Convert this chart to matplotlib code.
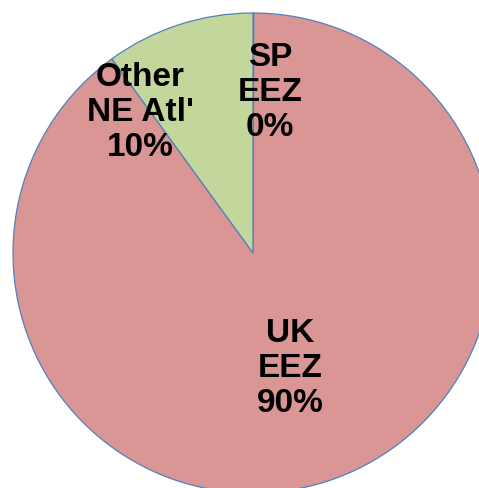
import matplotlib.pyplot as plt

# share of catch by zone
zones = ["SP\nEEZ", "UK\nEEZ", "Other\nNE Atl'"]
shares = [0.05, 89.95, 10.0]
colors = ["#95B3D7", "#D99694", "#C3D69B"]
# label anchor points inside the pie (axes data units, radius = 1)
label_xy = [(0.07, 0.67), (0.155, -0.48), (-0.47, 0.585)]

fig = plt.figure(figsize=(4.79, 4.88), dpi=100)
ax = fig.add_axes([13 / 479, -5 / 488, 480 / 479, 480 / 488])

wedges, _ = ax.pie(shares, colors=colors, startangle=90, counterclock=False,
                   radius=1, wedgeprops=dict(edgecolor="#4F81BD", linewidth=0.9))

total = sum(shares)
for name, val, (x, y) in zip(zones, shares, label_xy):
    ax.text(x, y, f"{name}\n{val / total * 100:.0f}%", ha="center", va="center",
            fontsize=24, fontweight="bold", family="Liberation Sans",
            linespacing=1.17)

ax.set_xlim(-1, 1)
ax.set_ylim(-1, 1)
ax.set_aspect("equal")
ax.axis("off")

fig.savefig("out.png", dpi=100)
